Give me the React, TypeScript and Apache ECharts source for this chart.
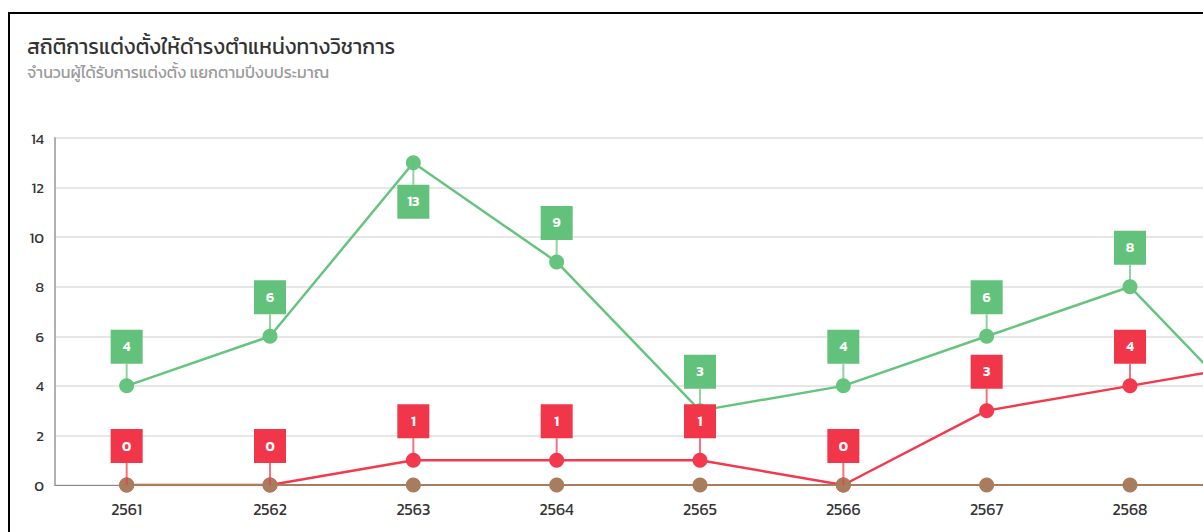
import React, { useEffect, useRef } from "react";
import * as echarts from "echarts";

const years = ["2561", "2562", "2563", "2564", "2565", "2566", "2567", "2568", "2569"];
const appointed = [4, 6, 13, 9, 3, 4, 6, 8, 2];
const notAppointed = [0, 0, 1, 1, 1, 0, 3, 4, 5];
const pending = [0, 0, 0, 0, 0, 0, 0, 0, 0];
const yTicks = { min: 0, max: 14, interval: 2 };

const GREEN = "#66c47f";
const GREEN_BOX = "#62c27b";
const RED = "#f2394e";
const RED_BOX = "#f2364a";
const BROWN = "#a87d5e";
const FONT = "Kanit, 'Noto Sans', 'Noto Sans Thai', sans-serif";

function labelSeries(name: string, values: number[], color: string, z: number) {
  return {
    type: "custom",
    name: name + "-label",
    z,
    silent: true,
    data: values.map((v, i) => [i, v]),
    renderItem: (params: any, api: any) => {
      const v = api.value(1);
      const pt = api.coord([api.value(0), v]);
      const below = v >= 12;
      const w = 32;
      const h = 34;
      const off = 39;
      const cy = below ? pt[1] + off : pt[1] - off;
      const edgeY = below ? cy - h / 2 : cy + h / 2;
      return {
        type: "group",
        children: [
          {
            type: "line",
            shape: { x1: pt[0], y1: pt[1], x2: pt[0], y2: edgeY },
            style: { stroke: color, lineWidth: 2, opacity: 0.7 },
          },
          {
            type: "rect",
            shape: { x: pt[0] - w / 2, y: cy - h / 2, width: w, height: h },
            style: { fill: color },
          },
          {
            type: "text",
            x: pt[0],
            y: cy,
            style: {
              text: String(v),
              fill: "#ffffff",
              font: "600 14px " + FONT,
              align: "center",
              verticalAlign: "middle",
            },
          },
        ],
      };
    },
  };
}

export default function App() {
  const ref = useRef<HTMLDivElement>(null);
  useEffect(() => {
    if (!ref.current) return;
    const chart = echarts.init(ref.current, undefined, { renderer: "svg" });
    chart.setOption({
      animation: false,
      textStyle: { fontFamily: FONT },
      title: {
        text: "สถิติการแต่งตั้งให้ดำรงตำแหน่งทางวิชาการ",
        subtext: "จำนวนผู้ได้รับการแต่งตั้ง แยกตามปีงบประมาณ",
        left: 12,
        top: 17,
        itemGap: 7,
        textStyle: { fontSize: 21, fontWeight: "normal", color: "#333333", fontFamily: FONT },
        subtextStyle: { fontSize: 16, color: "#9a9a9a", fontFamily: FONT },
      },
      grid: { left: 45, right: 65, top: 124, bottom: 69 },
      xAxis: {
        type: "category",
        data: years,
        boundaryGap: true,
        axisLine: { lineStyle: { color: "#888888", width: 1 } },
        axisTick: { show: false },
        axisLabel: { color: "#333333", fontSize: 16, margin: 16, fontFamily: FONT },
      },
      yAxis: {
        type: "value",
        min: yTicks.min,
        max: yTicks.max,
        interval: yTicks.interval,
        axisLine: { show: true, lineStyle: { color: "#b0b0b0", width: 2 } },
        axisTick: { show: false },
        axisLabel: { color: "#333333", fontSize: 15, margin: 11, fontFamily: FONT },
        splitLine: { lineStyle: { color: "#e6e6e6", width: 2 } },
      },
      series: [
        {
          type: "line",
          name: "ได้รับการแต่งตั้ง",
          data: appointed,
          z: 2,
          symbol: "circle",
          symbolSize: 15,
          itemStyle: { color: GREEN },
          lineStyle: { color: GREEN, width: 2.5 },
        },
        {
          type: "line",
          name: "ไม่ได้รับการแต่งตั้ง",
          data: notAppointed,
          z: 3,
          symbol: "circle",
          symbolSize: 15,
          itemStyle: { color: RED },
          lineStyle: { color: RED, width: 2.5 },
        },
        {
          type: "line",
          name: "อยู่ระหว่างพิจารณา",
          data: pending,
          z: 4,
          symbol: "circle",
          symbolSize: 15,
          itemStyle: { color: BROWN },
          lineStyle: { color: BROWN, width: 2 },
        },
        labelSeries("ได้รับการแต่งตั้ง", appointed, GREEN_BOX, 5),
        labelSeries("ไม่ได้รับการแต่งตั้ง", notAppointed, RED_BOX, 6),
      ],
    });
    return () => chart.dispose();
  }, []);

  return (
    <div
      style={{
        position: "fixed",
        left: 0,
        top: 0,
        width: "100vw",
        height: "100vh",
        overflow: "hidden",
        background: "#ffffff",
      }}
    >
      <div
        style={{
          position: "absolute",
          left: 8,
          top: 12,
          border: "2px solid #000000",
          background: "#ffffff",
        }}
      >
        <div ref={ref} style={{ width: 1400, height: 540 }} />
      </div>
    </div>
  );
}
